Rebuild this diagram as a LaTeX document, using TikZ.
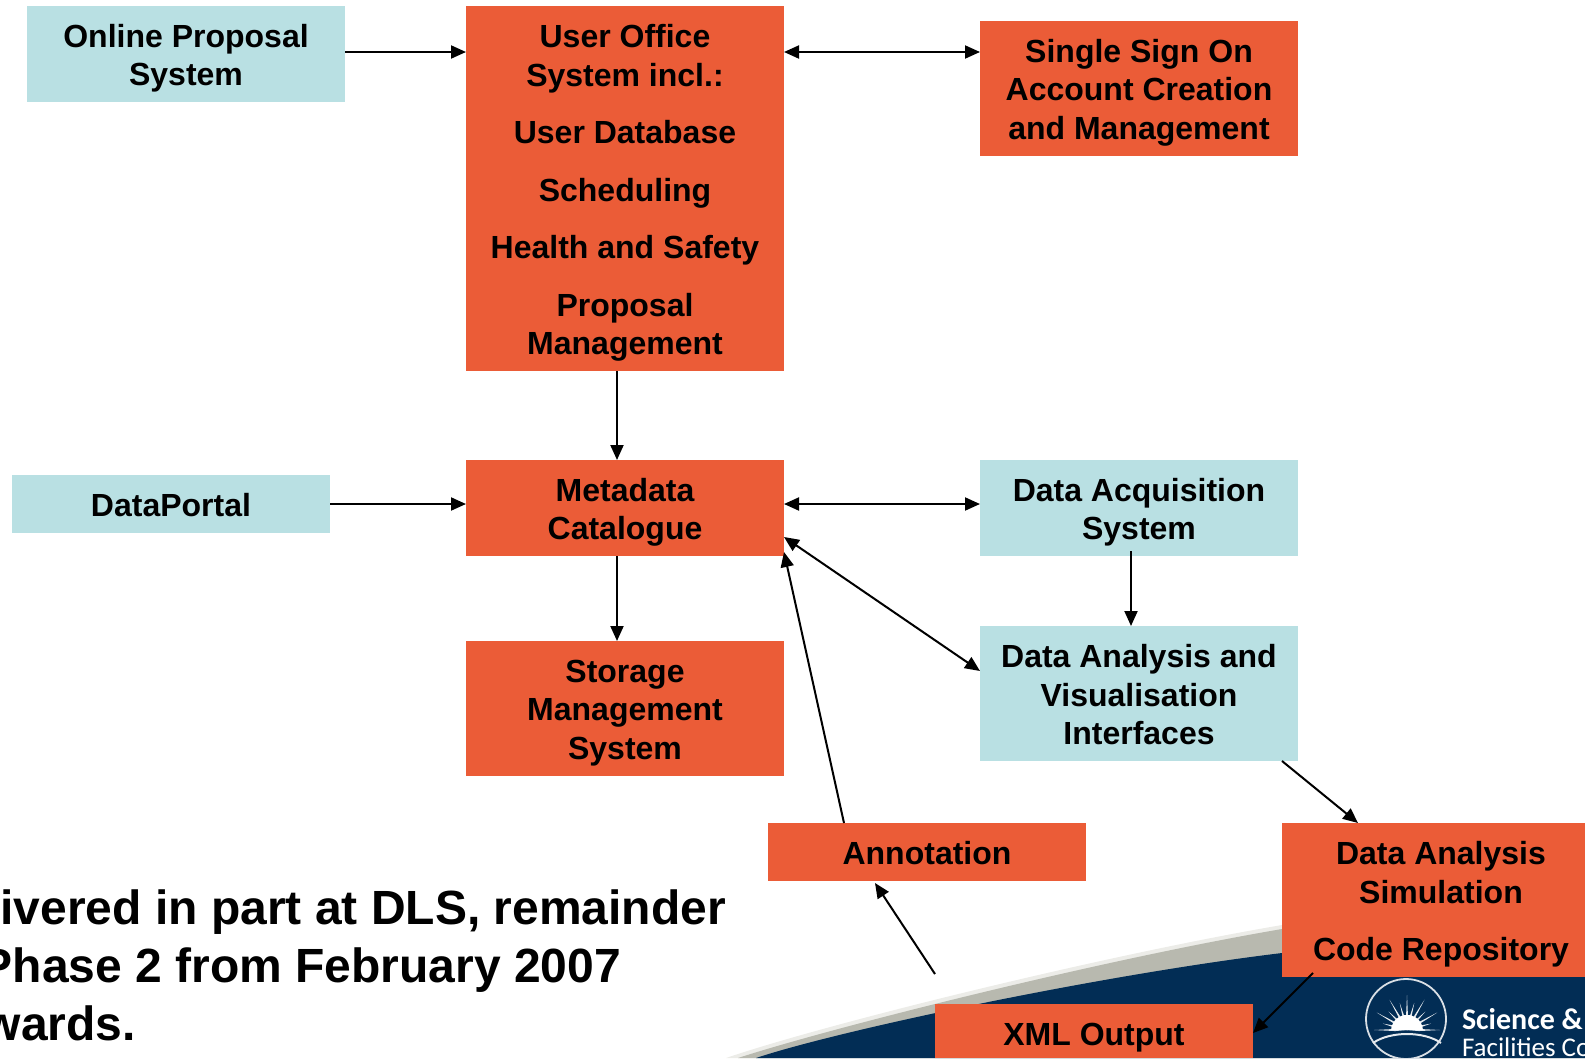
\documentclass[tikz,border=0pt]{standalone}
\usepackage{fontspec}
\setmainfont{Liberation Sans}
\newfontfamily\logofont{Carlito}
\usetikzlibrary{arrows.meta}
\definecolor{boxorange}{HTML}{EB5C37}
\definecolor{boxblue}{HTML}{B9E0E3}
\definecolor{navy}{HTML}{022D55}
\definecolor{swoosh}{HTML}{B8B9AF}
\definecolor{swooshsoft}{HTML}{ECECE8}
\newcommand{\lowerby}[1]{\rule{0pt}{\dimexpr 23.3pt+#1pt\relax}}
\tikzset{
  every node/.style={inner sep=0pt,outer sep=0pt},
  panel/.style={anchor=north west,align=center,text=black,
    font=\fontsize{32}{38.4}\selectfont\bfseries},
  orangebox/.style={panel,fill=boxorange},
  bluebox/.style={panel,fill=boxblue},
  link/.style={draw=black,line width=2pt,-{Triangle[length=15pt,width=13pt]}},
  twoway/.style={draw=black,line width=2pt,{Triangle[length=15pt,width=13pt]}-{Triangle[length=15pt,width=13pt]}},
  bigline/.style={anchor=base east,font=\fontsize{48}{57.6}\selectfont\bfseries},
}
\begin{document}
\begin{tikzpicture}[x=1pt,y=-1pt]
\useasboundingbox (0,0) rectangle (1585,1058);
\clip (0,0) rectangle (1585,1058);
% swoosh
\fill[swooshsoft] (726,1058) .. controls (822,1025) and (1100,956) .. (1282,925) -- (1585,885) -- (1585,1058) -- cycle;
\fill[swoosh] (738,1058) .. controls (830,1028) and (1100,960) .. (1282,929) -- (1585,890) -- (1585,1058) -- cycle;
\fill[navy] (756,1058) .. controls (840,1030) and (1100,975) .. (1282,953) -- (1585,925) -- (1585,1058) -- cycle;
% logo
\draw[white!85!navy,line width=1.8pt] (1406,1019) circle (40);
\foreach \a/\r in {180/33,195/25,210/35,225/26,240/35,255/28,270/35,285/28,300/35,315/26,330/35,345/25,360/33}{
  \fill[white!90!navy] (1407,1030) -- +(\a-5:12) -- +(\a:\r) -- +(\a+5:12) -- cycle;
}
\fill[white] (1391,1030) .. controls (1393,1010) and (1421,1010) .. (1423,1030) -- cycle;
\draw[white!90!navy,line width=2pt] (1373,1043) .. controls (1390,1031) and (1424,1031) .. (1441,1043);
\node[anchor=base west,text=white,font=\logofont\fontsize{30}{30}\selectfont\bfseries] (sci) at (1462,1029) {Science \&};
\node[anchor=base west,text=white,font=\logofont\fontsize{27}{30}\selectfont] (fac) at (1462,1056) {Facilit{}ies Co};
% boxes
\node[bluebox,minimum width=318pt,minimum height=96pt] (online) at (27,6) {\lowerby{8}Online Proposal\\System};
\node[orangebox,minimum width=318pt,minimum height=365pt] (uo) at (466,6) {\lowerby{9}User Office\\System incl.:\\[19.2pt]User Database\\[19.2pt]Scheduling\\[19.2pt]Health and Safety\\[19.2pt]Proposal\\Management};
\node[orangebox,minimum width=318pt,minimum height=135pt] (sso) at (980,21) {\lowerby{8}Single Sign On\\Account Creation\\and Management};
\node[bluebox,minimum width=318pt,minimum height=58pt] (portal) at (12,475) {\lowerby{2}DataPortal};
\node[orangebox,minimum width=318pt,minimum height=96pt] (meta) at (466,460) {\lowerby{8}Metadata\\Catalogue};
\node[bluebox,minimum width=318pt,minimum height=96pt] (daq) at (980,460) {\lowerby{8}Data Acquisition\\System};
\node[orangebox,minimum width=318pt,minimum height=135pt] (store) at (466,641) {\lowerby{8}Storage\\Management\\System};
\node[bluebox,minimum width=318pt,minimum height=135pt] (davi) at (980,626) {\lowerby{2}Data Analysis and\\Visualisation\\Interfaces};
\node[orangebox,minimum width=318pt,minimum height=58pt] (anno) at (768,823) {\lowerby{2}Annotation};
\node[orangebox,minimum width=303pt,minimum height=154pt] (sim) at (1282,823) {\hspace*{15pt}\begin{tabular}{@{}c@{}}\rule{0pt}{37pt}Data Analysis\\Simulation\\[19.2pt]Code Repository\end{tabular}};
\node[orangebox,minimum width=318pt,minimum height=54pt] (xml) at (935,1004) {\lowerby{12}XML Output};
\coordinate (xmltail) at (935,974);
% text
\node[bigline] (l1) at (726,924) {ivered in part at DLS, remainder};
\node[bigline] (l2) at (621,982) {Phase 2 from February 2007};
\node[bigline] (l3) at (136,1040) {wards.};
% connectors
\draw[link] ([yshift=2pt]online.east) -- ([yshift=-46pt]uo.north west);
\draw[twoway] ([yshift=-46pt]uo.north east) -- ([yshift=-31pt]sso.north west);
\draw[link] ([xshift=-8pt]uo.south) -- ([xshift=-8pt]meta.north);
\draw[link] (portal.east) -- ([yshift=4pt]meta.west);
\draw[twoway] ([yshift=4pt]meta.east) -- ([yshift=4pt]daq.west);
\draw[link] ([xshift=-8pt,yshift=5pt]daq.south) -- ([xshift=-8pt]davi.north);
\draw[link] ([xshift=-8pt]meta.south) -- ([xshift=-8pt]store.north);
\draw[twoway] ([yshift=-29pt]meta.east) -- ([yshift=-45pt]davi.north west);
\draw[link] ([xshift=-83pt]anno.north) -- ([yshift=4pt]meta.south east);
\draw[link] ([xshift=-16pt]davi.south east) -- ([xshift=76pt]sim.north west);
\draw[link] (xmltail) -- ([xshift=-52pt,yshift=-2pt]anno.south);
\draw[link] ([xshift=31pt,yshift=4pt]sim.south west) -- ([yshift=-2pt]xml.east);
\end{tikzpicture}
\end{document}
